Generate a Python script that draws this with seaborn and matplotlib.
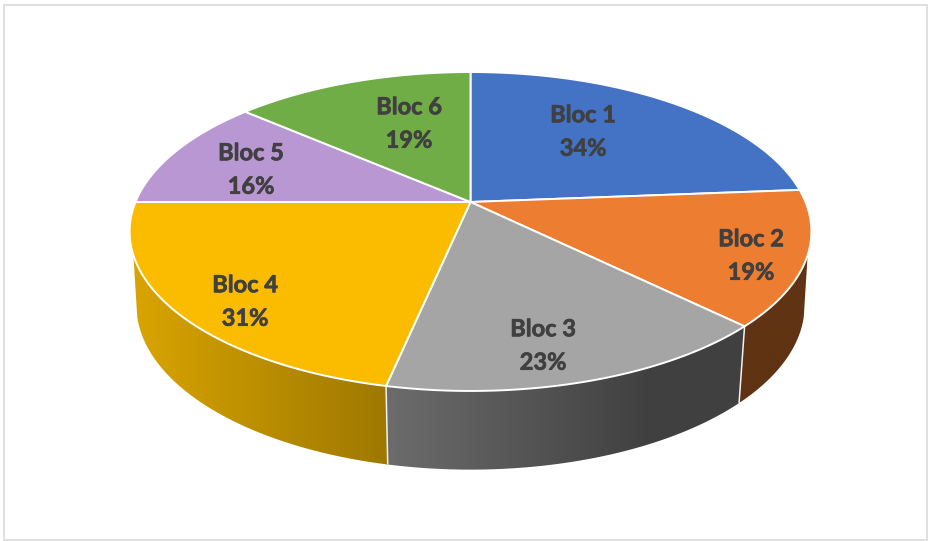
import numpy as np
import matplotlib
matplotlib.use("Agg")
import matplotlib.pyplot as plt
from matplotlib.patches import Rectangle, Polygon
from matplotlib.colors import to_rgb
import matplotlib.patheffects as pe
import seaborn as sns

# ---- data ----
blocks = ["Bloc 1", "Bloc 2", "Bloc 3", "Bloc 4", "Bloc 5", "Bloc 6"]
values = [33.7, 19.4, 22.6, 30.8, 16.2, 19.3]
top_colors = ["#4472C4", "#ED7D31", "#A5A5A5", "#FBBC00", "#B897D2", "#70AD47"]
side_left = {1: "#5F3313", 2: "#6C6C6C", 3: "#DAA500"}
side_right = {1: "#5F3313", 2: "#404040", 3: "#9E7800"}
gradient_x = {1: (737, 810), 2: (386, 650), 3: (130, 386)}
label_x = [583, 751, 543, 245, 251, 409]
label_y = [131.5, 255.5, 345.5, 301.5, 169.5, 123.5]

# ---- projection of the tilted disc ----
CX, CY = 470.5, 202
RX, B, K = 335, 154, 0.185
BOTTOM_SCALE_X, BOTTOM_SCALE_Y, DROP = 0.98, 1.03, 73


def top_disc(theta):
    x, y = np.sin(theta), np.cos(theta)
    w = 1 + K * y
    return CX + RX * x / w, CY - B * y / w


def bottom_disc(theta):
    x, y = top_disc(theta)
    return CX + BOTTOM_SCALE_X * (x - CX), CY + DROP + BOTTOM_SCALE_Y * (y - CY)


sns.set_theme(style="white")
plt.rcParams["font.family"] = ["Lato", "DejaVu Sans"]
palette = sns.color_palette(top_colors)

fig = plt.figure(figsize=(9.3, 5.41), dpi=100, facecolor="white")
ax = fig.add_axes([0, 0, 1, 1])
ax.axis("off")

ax.add_patch(Rectangle((3.5, 4.5), 923.5, 535, fill=False, ec="#DADADA", lw=1.2))

edges = np.radians(np.r_[0, np.cumsum(values)] / np.sum(values) * 360)

# silhouette angles differ a little between the top and bottom discs
RIM_TOP = np.radians([108.9, 251.1])
RIM_BOT = np.radians([104.5, 255.5])

for i in (3, 2, 1):
    top_t = np.linspace(max(edges[i], RIM_TOP[0]), min(edges[i + 1], RIM_TOP[1]), 120)
    bot_t = np.linspace(max(edges[i], RIM_BOT[0]), min(edges[i + 1], RIM_BOT[1]), 120)
    xt, yt = top_disc(top_t)
    xb, yb = bottom_disc(bot_t)
    poly = Polygon(np.c_[np.r_[xt, xb[::-1]], np.r_[yt, yb[::-1]]], closed=True,
                   transform=ax.transData, fc="none", ec="none")
    ax.add_patch(poly)
    lo, hi = gradient_x[i]
    c0, c1 = np.array(to_rgb(side_left[i])), np.array(to_rgb(side_right[i]))
    ramp = np.linspace(0, 1, 256)[None, :, None]
    img = c0[None, None, :] + (c1 - c0)[None, None, :] * ramp
    im = ax.imshow(img, extent=(lo, hi, 480, 180), aspect="auto", zorder=2, interpolation="bilinear")
    # flat part of the ramp beyond its end
    if hi < xt.max():
        ax.add_patch(Rectangle((hi, 180), xt.max() + 5 - hi, 300, fc=side_right[i], ec="none",
                               zorder=2, clip_path=poly))
    im.set_clip_path(poly)

ax.set_xlim(0, 930)
ax.set_ylim(541, 0)

# white seams on the rim
for e in edges[2:5]:
    xt, yt = top_disc(e)
    xb, yb = bottom_disc(e)
    ax.plot([xt, xb], [yt, yb], color="#F2F2F2", lw=1.1, zorder=3, solid_capstyle="butt")

# top face
for i in range(len(values)):
    ts = np.linspace(edges[i], edges[i + 1], 120)
    x, y = top_disc(ts)
    ax.fill(np.r_[CX, x], np.r_[CY, y], facecolor=palette[i], edgecolor="white", lw=1.4, zorder=4, joinstyle="round")

for name, v, lx, ly in zip(blocks, values, label_x, label_y):
    ax.text(lx, ly, f"{name}\n{round(v)}%", ha="center", va="center", fontsize=17, fontweight="bold",
            color="#404040", linespacing=1.55, zorder=5,
            path_effects=[pe.withStroke(linewidth=0.5, foreground="#404040")])

fig.savefig("out.png", dpi=100)
